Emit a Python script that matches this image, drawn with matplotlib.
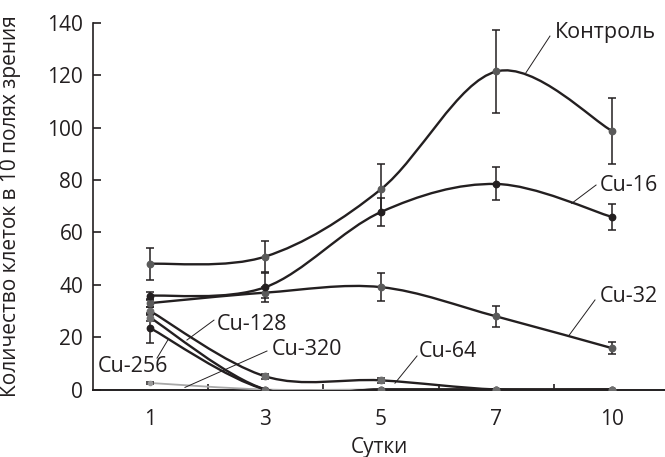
import matplotlib
matplotlib.use('Agg')
import matplotlib.pyplot as plt
import numpy as np
from matplotlib.path import Path
from matplotlib.patches import PathPatch

plt.rcParams['font.family'] = ['Open Sans', 'DejaVu Sans']

days = ['1', '3', '5', '7', '10']

control = [48, 50.8, 76.5, 121.5, 98.8]
control_err = [6, 6, 9.5, 15.8, 12.7]
cu16 = [35.8, 39.1, 67.8, 78.5, 65.9]
cu16_err = [1.6, 5.5, 5.3, 6.3, 5]
cu32 = [33, 37, 39.1, 27.9, 15.8]
cu32_err = [1.5, 2, 5.3, 4, 2.3]
cu64 = [30, 5, 3.5, 0, 0]
cu64_err = [1.5, 1, 1, 0, 0]
cu128 = [27.5, 0, 0, 0, 0]
cu128_err = [1.5, 0, 0, 0, 0]
cu256 = [23.5, 0, 0, 0, 0]
cu256_err = [5.8, 0, 0, 0, 0]
cu320 = [2.5, 0, 0, 0, 0]
cu320_err = [0.5, 0, 0, 0, 0]

LINE = '#231f20'


def smooth_path(xs, ys):
    # Bezier segments through the points (Excel-style smoothed line)
    p = np.column_stack([xs, ys]).astype(float)
    n = len(p)
    verts = [p[0]]
    codes = [Path.MOVETO]
    for i in range(n - 1):
        prev = p[i - 1] if i > 0 else p[i]
        nxt = p[i + 2] if i + 2 < n else p[i + 1]
        c1 = p[i] + (p[i + 1] - prev) / 6
        c2 = p[i + 1] - (nxt - p[i]) / 6
        verts += [c1, c2, p[i + 1]]
        codes += [Path.CURVE4] * 3
    return Path(verts, codes)


def draw_series(ax, ys, err, mcolor, lcolor=LINE, lw=1.7, ms=4.6):
    xs = np.arange(len(ys))
    ax.add_patch(PathPatch(smooth_path(xs, ys), fill=False, edgecolor=lcolor,
                           linewidth=lw, zorder=3))
    ax.errorbar(xs, ys, yerr=err, fmt='none', ecolor=LINE, elinewidth=1.1,
                capsize=3.2, capthick=1.1, zorder=4)
    ax.plot(xs, ys, 'o', color=mcolor, markersize=ms, zorder=5)


fig = plt.figure(figsize=(6.65, 4.57), dpi=100)
ax = fig.add_axes([0.1398, 0.1477, 0.8602, 0.802])

draw_series(ax, cu320, cu320_err, '#9a9a9a', lcolor='#a8a8a8', lw=1.3, ms=3)
draw_series(ax, cu256, cu256_err, LINE)
draw_series(ax, cu128, cu128_err, '#6e6e6e')
draw_series(ax, cu64, cu64_err, '#6e6e6e')
draw_series(ax, cu32, cu32_err, '#5a5a5a')
draw_series(ax, cu16, cu16_err, LINE)
draw_series(ax, control, control_err, '#5a5a5a')

ax.set_xlim(-0.4935, 4.459)
ax.set_ylim(0, 140)

ax.spines['top'].set_visible(False)
ax.spines['right'].set_visible(False)
ax.spines['left'].set_linewidth(1.2)
ax.spines['bottom'].set_linewidth(1.4)
ax.spines['left'].set_color(LINE)
ax.spines['bottom'].set_color(LINE)

ax.set_yticks(range(0, 141, 20))
ax.tick_params(axis='y', direction='in', length=5.5, width=1.2, color=LINE,
               labelsize=15, pad=7, labelcolor=LINE)
ax.set_xticks(range(len(days)))
ax.set_xticklabels(days)
ax.tick_params(axis='x', which='major', length=0, labelsize=15, pad=14,
               labelcolor=LINE)
ax.set_xticks(np.arange(0.5, len(days) - 1, 1), minor=True)
ax.tick_params(axis='x', which='minor', direction='in', length=4.5,
               width=1.2, color=LINE)

ax.set_xlabel('Сутки', fontsize=15, color=LINE, labelpad=5)
ax.set_ylabel('Количество клеток в 10 полях зрения', fontsize=15, color=LINE)
ax.yaxis.set_label_coords(-0.126, 0.5)

# labels with leader lines
labels = [
    ('Контроль', (3.506, 136.2), [(3.463, 135.0), (3.255, 121.0)]),
    ('Cu-16', (3.896, 78.1), [(3.862, 78.1), (3.651, 71.1)]),
    ('Cu-32', (3.896, 35.4), [(3.853, 34.2), (3.630, 20.8)]),
    ('Cu-64', (2.329, 14.4), [(2.312, 12.8), (2.121, 2.4)]),
    ('Cu-320', (1.056, 15.1), [(1.013, 14.7), (0.303, 0.8)]),
    ('Cu-128', (0.58, 25.0), [(0.554, 26.5), (0.320, 18.9)]),
    ('Cu-256', (-0.45, 8.6), [(0.061, 12.0), (0.156, 19.0)]),
]
for text, pos, leader in labels:
    ax.text(pos[0], pos[1], text, fontsize=15.5, color=LINE,
            ha='left', va='center', zorder=6)
    lx, ly = zip(*leader)
    ax.plot(lx, ly, color=LINE, linewidth=0.7, zorder=6)

fig.savefig('out.png', dpi=100)
